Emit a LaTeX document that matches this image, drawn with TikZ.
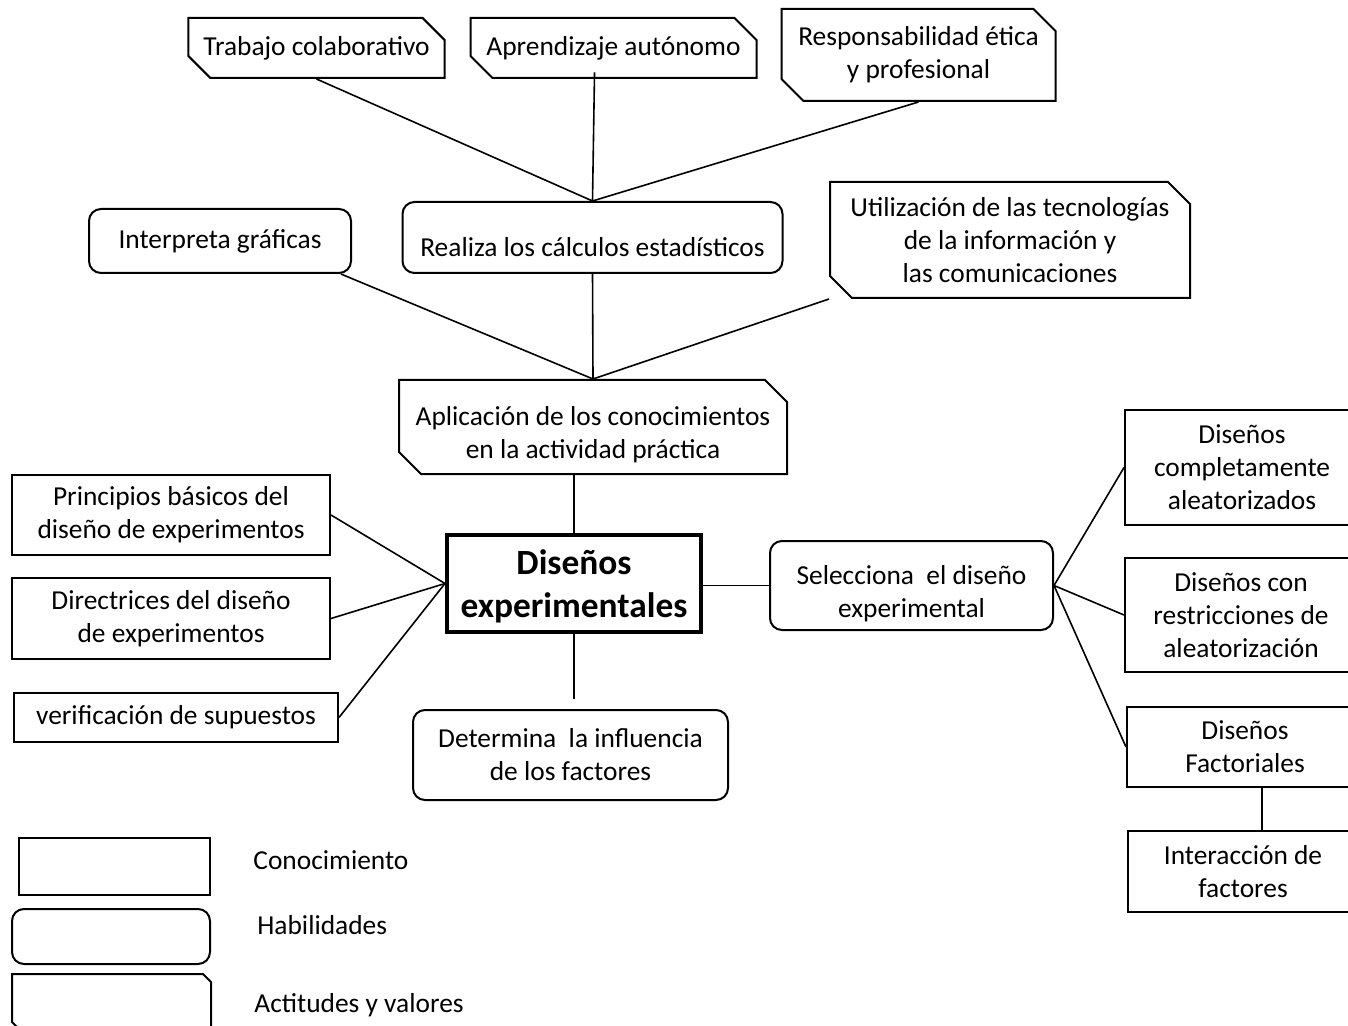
\documentclass[tikz,border=0pt]{standalone}
\usepackage{fontspec}
\setmainfont{Carlito}
\usetikzlibrary{calc,shapes.misc}

\tikzset{
  caja/.style={draw, line width=1pt, inner sep=2pt, align=center,
    font=\fontsize{13.7}{16.5}\selectfont},
  conoc/.style={caja},
  habil/.style={caja, rounded corners=6pt},
  actit/.style={caja, chamfered rectangle,
    chamfered rectangle corners={north east,south west},
    chamfered rectangle xsep=5.5pt, chamfered rectangle ysep=5.5pt},
  enlace/.style={line width=0.8pt},
  leyenda/.style={anchor=west, inner sep=0pt, font=\fontsize{13.7}{16.5}\selectfont}
}

\begin{document}
\begin{tikzpicture}[x=0.5pt,y=0.5pt,yscale=-1]
    \useasboundingbox (0,0) rectangle (1348,1026);
    \clip (0,0) rectangle (1348,1026);

    %Actitudes y valores (arriba)
    \node (trab) at (316.5,48) [actit, minimum width=128pt, minimum height=30pt] {Trabajo colaborativo};
    \node (apre) at (613.5,48) [actit, minimum width=143pt, minimum height=30pt] {Aprendizaje autónomo};
    \node (resp) at (918.5,55) [actit, minimum width=137pt, minimum height=46pt] {Responsabilidad ética\\y profesional};

    %Habilidades
    \node (real) at (592.5,237.5) [habil, minimum width=190pt, minimum height=35.5pt, text height=19pt] {Realiza los cálculos estadísticos};
    \node (interp) at (220,241) [habil, minimum width=131pt, minimum height=32pt] {Interpreta gráficas};
    \node (util) at (1010,240) [actit, minimum width=180pt, minimum height=58pt] {Utilización de las tecnologías\\de la información y\\las comunicaciones};

    \node (apli) at (593,427) [actit, inner ysep=0pt, minimum width=194pt, minimum height=47pt] {\rule{0pt}{17pt}Aplicación de los conocimientos\\en la actividad práctica};

    %Nodo central
    \node (dis) at (574,583.5) [draw, line width=2pt, minimum width=127pt, minimum height=48.5pt, align=center,
      font=\fontsize{17.7}{21.5}\selectfont\bfseries] {\rule{0pt}{15pt}Diseños\\experimentales};

    %Conocimiento (izquierda)
    \node (prin) at (171,515) [conoc, minimum width=159pt, minimum height=40pt] {Principios básicos del\\diseño de experimentos};
    \node (dire) at (171,618.5) [conoc, minimum width=159pt, minimum height=40.5pt] {Directrices del diseño\\de experimentos};
    \node (veri) at (176,717.5) [conoc, minimum width=162pt, minimum height=24.5pt] {verificación de supuestos};

    \node (dete) at (570.5,755) [habil, minimum width=157.5pt, minimum height=45pt] {Determina\ \ la influencia\\de los factores};
    \coordinate (dete-in) at (574,699);

    \node (sele) at (911.5,585.5) [habil, minimum width=141.5pt, minimum height=44.5pt] {\rule{0pt}{17.5pt}Selecciona\ \ el diseño\\experimental};

    %Conocimiento (derecha)
    \node (compl) at (1242,467.5) [conoc, minimum width=117pt, minimum height=57.5pt] {Diseños\\completamente\\aleatorizados};
    \node (restr) at (1241,615) [conoc, minimum width=116pt, minimum height=57pt] {Diseños con\\restricciones de\\aleatorización};
    \node (fact) at (1245,747) [conoc, minimum width=118pt, minimum height=40pt] {Diseños\\Factoriales};
    \node (inter) at (1243,871.5) [conoc, minimum width=115pt, minimum height=40.5pt] {Interacción de\\factores};
    \coordinate (fact-out) at ($(fact.south)+(17,0)$);

    %Conectores
    \draw [enlace] (trab.south) -- (real.north);
    \draw [enlace] ($(apre.south west)!0.411!(apre.south east)$) -- (real.north);
    \draw [enlace] (resp.south) -- (real.north);
    \draw [enlace] (real.south) -- (apli.north);
    \draw [enlace] ($(interp.south west)!0.958!(interp.south east)$) -- (apli.north);
    \draw [enlace] (util.west |- util.south) -- (apli.north);
    \draw [enlace] (dis.north |- apli.south) -- (dis.north);
    \draw [enlace] (prin.east) -- (dis.west);
    \draw [enlace] (dire.east) -- (dis.west);
    \draw [enlace] (veri.east) -- (dis.west);
    \draw [enlace] (dis.south) -- (dete-in);
    \draw [enlace] (sele.west -| dis.east) -- (sele.west);
    \draw [enlace] (sele.east) -- (compl.west);
    \draw [enlace] (sele.east) -- (restr.west);
    \draw [enlace] (sele.east) -- (fact.west);
    \draw [enlace] (fact-out) -- (fact-out |- inter.north);

    %Leyenda
    \node (leyc) at (114.5,866.5) [conoc, minimum width=95.5pt, minimum height=28.5pt] {};
    \node (leyh) at (111,936.5) [habil, minimum width=99pt, minimum height=27.5pt] {};
    \node (leya) at (111.5,1002) [actit, minimum width=99.5pt, minimum height=28pt] {};
    \node (txtc) at (253,860) [leyenda] {Conocimiento};
    \node (txth) at (257,925) [leyenda] {Habilidades};
    \node (txta) at (254,1005) [leyenda] {Actitudes y valores};
\end{tikzpicture}
\end{document}
